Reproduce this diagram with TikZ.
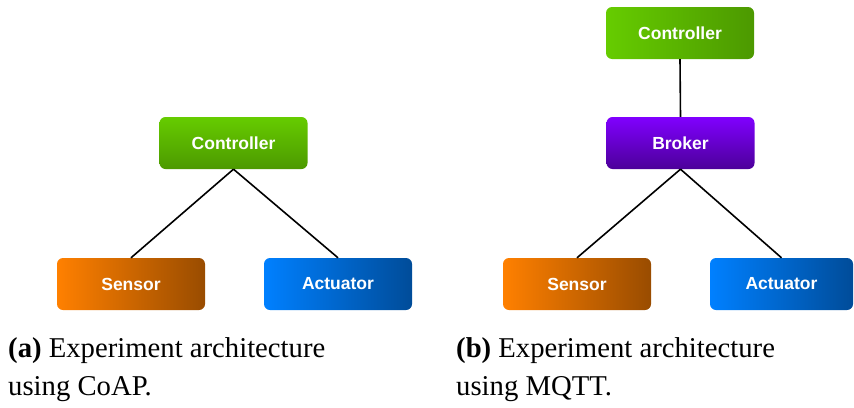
\documentclass[tikz,border=0pt]{standalone}
\usepackage{fontspec}
\setmainfont{Liberation Serif}
\newfontfamily\boxfont{Liberation Sans}
\tikzset{
  box/.style={rounded corners=6pt, minimum width=148pt, minimum height=52pt,
    inner sep=0pt, text=white, font=\boxfont\bfseries\fontsize{17.5}{20}\selectfont},
  hgreen/.style={box, left color=green1, right color=green2},
  vgreen/.style={box, top color=green1, bottom color=green2},
  vpurple/.style={box, top color=purple1, bottom color=purple2},
  horange/.style={box, left color=orange1, right color=orange2},
  hblue/.style={box, left color=blue1, right color=blue2},
  link/.style={line width=1.6pt, black},
  captext/.style={anchor=base west, inner sep=0pt, font=\fontsize{28.7}{36}\selectfont}
}
\definecolor{green1}{HTML}{66CC00}
\definecolor{green2}{HTML}{4C9900}
\definecolor{purple1}{HTML}{8000FF}
\definecolor{purple2}{HTML}{4C0099}
\definecolor{orange1}{HTML}{FF8000}
\definecolor{orange2}{HTML}{994C00}
\definecolor{blue1}{HTML}{0080FF}
\definecolor{blue2}{HTML}{004C99}
\begin{document}
\begin{tikzpicture}[x=1pt,y=-1pt]
\useasboundingbox (0,0) rectangle (854,407);
% (a)
\node[vgreen] (ca) at (233.5,143) {Controller};
\node[horange] (sa) at (131,284) {Sensor};
\node[hblue] (aa) at (338,284) {Actuator};
\draw[link] (ca.south) -- (sa.north);
\draw[link] (ca.south) -- (aa.north);
% (b)
\node[hgreen] (cb) at (680,33) {Controller};
\node[vpurple] (bb) at (680.5,143) {Broker};
\node[horange] (sb) at (577,284) {Sensor};
\node[hblue, minimum width=143pt] (ab) at (781.5,284) {Actuator};
\draw[link] (cb.south) -- (bb.north);
\draw[link] (bb.south) -- (sb.north);
\draw[link] (bb.south) -- (ab.north);
% captions
\node[captext] (ta1) at (8,357) {\textbf{(a)} Experiment architecture};
\node[captext] (ta2) at (8,395) {using CoAP.};
\node[captext] (tb1) at (456,357) {\textbf{(b)} Experiment architecture};
\node[captext] (tb2) at (456,395) {using MQTT.};
\end{tikzpicture}
\end{document}
